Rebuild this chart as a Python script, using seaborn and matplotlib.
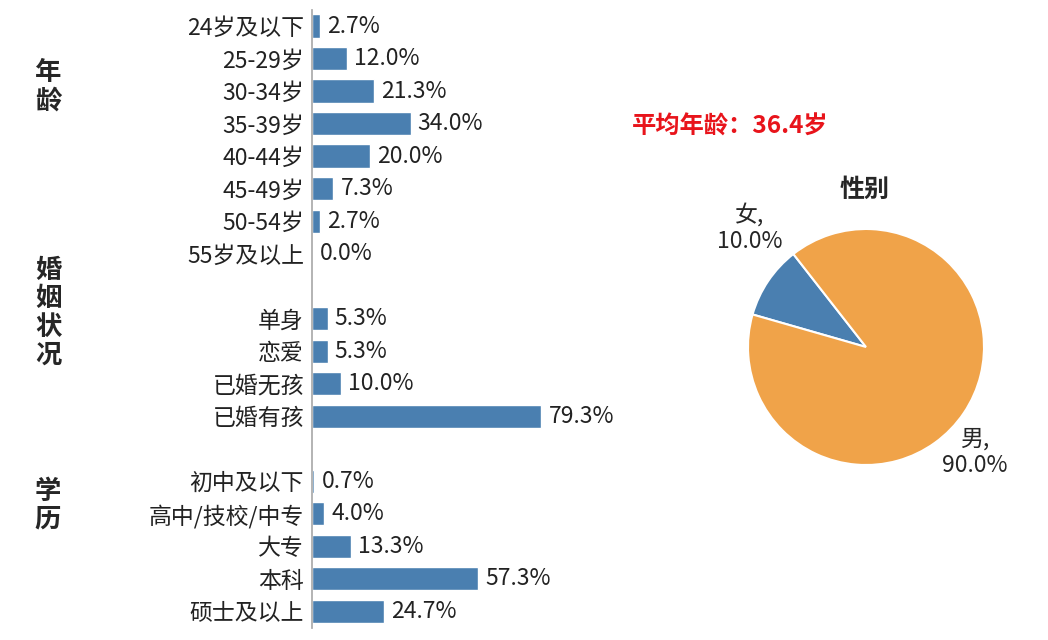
import matplotlib
matplotlib.use("Agg")
import matplotlib.pyplot as plt
import seaborn as sns
import pandas as pd

sns.set_theme(style="white")
plt.rcParams['font.family'] = ['Noto Sans CJK SC', 'DejaVu Sans']

age_labels = ["24岁及以下", "25-29岁", "30-34岁", "35-39岁", "40-44岁", "45-49岁", "50-54岁", "55岁及以上"]
age_values = [2.7, 12.0, 21.3, 34.0, 20.0, 7.3, 2.7, 0.0]
marry_labels = ["单身", "恋爱", "已婚无孩", "已婚有孩"]
marry_values = [5.3, 5.3, 10.0, 79.3]
edu_labels = ["初中及以下", "高中/技校/中专", "大专", "本科", "硕士及以上"]
edu_values = [0.7, 4.0, 13.3, 57.3, 24.7]
gender_labels = ["女,\n10.0%", "男,\n90.0%"]
gender_values = [10.0, 90.0]

# blank rows between groups
labels = age_labels + [" "] + marry_labels + ["  "] + edu_labels
values = age_values + [None] + marry_values + [None] + edu_values
df = pd.DataFrame({"label": labels, "value": values})

blue = "#4a7fb0"
fig = plt.figure(figsize=(10.48, 6.4), dpi=100)
ax = fig.add_axes([0.298, 0.0195, 0.35, 0.965])
sns.barplot(data=df, y="label", x="value", order=labels, color=blue,
            width=0.72, saturation=1, ax=ax)
ax.set_xlim(0, 127)
ax.set_ylim(18.5, -0.5)
ax.set_xlabel("")
ax.set_ylabel("")
ax.set_xticks([])
ax.tick_params(axis="y", labelsize=16.5, length=0, pad=6, colors="#222222")
for s in ["top", "right", "bottom"]:
    ax.spines[s].set_visible(False)
ax.spines["left"].set_color("#aaaaaa")
for i, v in enumerate(values):
    if v is not None:
        ax.text(v + 2.5, i, f"{v:.1f}%", va="center", ha="left", fontsize=16.5, color="#222222")

for txt, y in [("年\n龄", 87), ("婚\n姻\n状\n况", 313), ("学\n历", 505)]:
    fig.text(48 / 1048, 1 - y / 640, txt, ha="center", va="center",
             fontsize=19, fontweight="bold", linespacing=1.05)

fig.text(730 / 1048, 1 - 127 / 640, "平均年龄：36.4岁", color="#e8141b",
         fontsize=17.5, fontweight="bold", ha="center", va="center")
fig.text(865 / 1048, 1 - 190 / 640, "性别", fontsize=18, fontweight="bold",
         ha="center", va="center")

pax = fig.add_axes([(866 - 118) / 1048, 1 - (347 + 118) / 640, 236 / 1048, 236 / 640])
pax.pie(gender_values, colors=[blue, "#f0a349"], startangle=128,
        wedgeprops=dict(edgecolor="white", linewidth=1.5))
pax.set_xlim(-1, 1)
pax.set_ylim(-1, 1)
pax.set_aspect("equal")
fig.text(750 / 1048, 1 - 228 / 640, gender_labels[0], fontsize=16.5, ha="center", va="center")
fig.text(975 / 1048, 1 - 452 / 640, gender_labels[1], fontsize=16.5, ha="center", va="center")

fig.savefig("out.png", dpi=100)
